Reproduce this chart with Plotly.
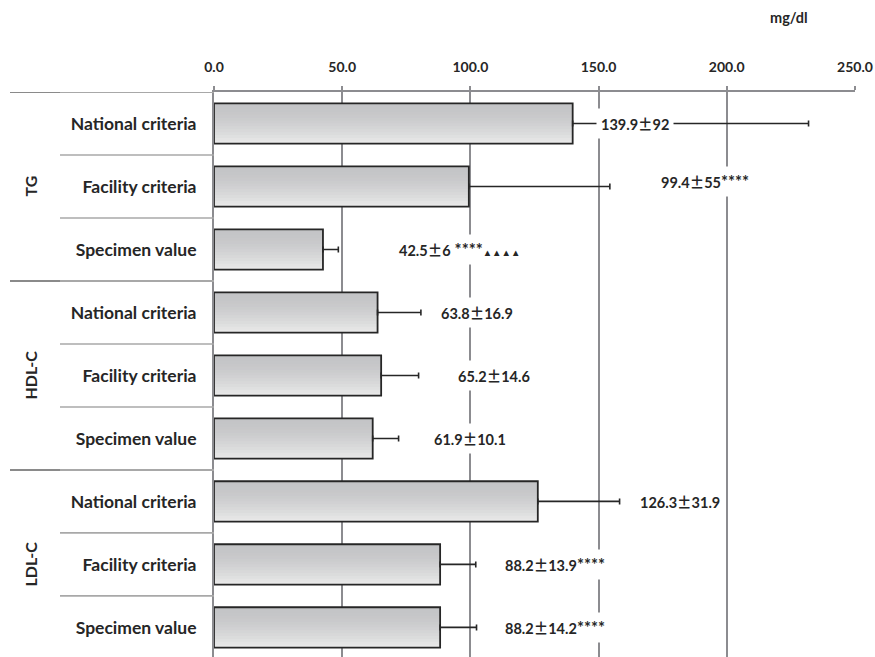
import plotly.graph_objects as go

# ---- data -------------------------------------------------------------
groups = ["TG", "HDL-C", "LDL-C"]
items = ["National criteria", "Facility criteria", "Specimen value"]
means = [139.9, 99.4, 42.5, 63.8, 65.2, 61.9, 126.3, 88.2, 88.2]
sds = [92, 55, 6, 16.9, 14.6, 10.1, 31.9, 13.9, 14.2]
marks = ["", "****", " ****", "", "", "", "", "****", "****"]
triangles = ["", "", "▲▲▲▲", "", "", "", "", "", ""]
x_ticks = [0, 50, 100, 150, 200, 250]
unit = "mg/dl"

# ---- label placement (centre in axis units, upward nudge in px) --------
label_center = [164.2, 191.5, 95.6, 102.6, 109.2, 99.8, 181.9, 133.0, 133.0]
label_lift = [0, 5, 0, 0, 0, 0, 0, 0, 0]

FONT = "Lato"
INK = "#262626"
GRID = "#8c8c90"
BAR_W = 0.64

rows = list(range(len(means)))
row_labels = [items[i % 3] for i in rows]

fig = go.Figure()

# vertical grey gradient inside each bar, built from overlapping strips
n_strips = 14
top_rgb = (195, 196, 198)
bot_rgb = (232, 232, 232)
for k in range(n_strips):
    t = (k / (n_strips - 1)) ** 1.6
    c = tuple(round(a + (b - a) * t) for a, b in zip(top_rgb, bot_rgb))
    start = -BAR_W / 2 + k * BAR_W / n_strips
    fig.add_trace(go.Bar(
        x=means, y=rows, orientation="h",
        width=BAR_W - k * BAR_W / n_strips, offset=start,
        marker=dict(color="rgb(%d,%d,%d)" % c, line=dict(width=0)),
        hoverinfo="skip", showlegend=False,
    ))

# bar outlines with the +SD whiskers
fig.add_trace(go.Bar(
    x=means, y=rows, orientation="h",
    width=BAR_W, offset=-BAR_W / 2,
    marker=dict(color="rgba(0,0,0,0)", line=dict(color=INK, width=1.8)),
    error_x=dict(type="data", symmetric=False, array=sds,
                 arrayminus=[0] * len(sds), color=INK, thickness=1.6, width=3),
    hoverinfo="skip", showlegend=False,
))


def fmt(v):
    return f"{v:g}"


PM = "<span style='font-family:\"Noto Sans CJK JP\"'>±</span>"
annotations = []
for i in rows:
    txt = fmt(means[i]) + PM + fmt(sds[i])
    if marks[i]:
        txt += "<span style='font-size:16.5px'>" + marks[i] + "</span>"
    if triangles[i]:
        txt += "<span style='font-size:9.5px'>" + triangles[i] + "</span>"
    annotations.append(dict(
        x=label_center[i], y=i, xref="x", yref="y", text=txt,
        showarrow=False, xanchor="center", yanchor="middle", yshift=label_lift[i],
        bgcolor="white", borderpad=4,
        font=dict(family=FONT, size=14.5, color=INK, weight="bold"),
    ))

# group names, rotated, left of the item names
for g, name in enumerate(groups):
    annotations.append(dict(
        x=-0.287, y=g * 3 + 1, xref="paper", yref="y", text=name,
        textangle=-90, showarrow=False, xanchor="center", yanchor="middle",
        font=dict(family=FONT, size=16, color=INK, weight="bold"),
    ))

# unit above the axis
annotations.append(dict(
    x=0.897, y=1.131, xref="paper", yref="paper", text=unit, showarrow=False,
    xanchor="center", yanchor="middle",
    font=dict(family=FONT, size=14.5, color=INK, weight="bold"),
))

# separator lines in the label column
shapes = []
x_far, x_mid = (10 - 214) / 641, (60 - 214) / 641
for b in [-0.5, 2.5, 5.5, 8.5]:
    shapes.append(dict(type="line", xref="paper", yref="y", x0=x_far, x1=x_mid,
                       y0=b, y1=b, line=dict(color="#8a8a8a", width=2)))
    shapes.append(dict(type="line", xref="paper", yref="y", x0=x_mid, x1=0,
                       y0=b, y1=b, line=dict(color="#a8a8a8", width=2)))
for b in [0.5, 1.5, 3.5, 4.5, 6.5, 7.5]:
    shapes.append(dict(type="line", xref="paper", yref="y", x0=x_mid, x1=0,
                       y0=b, y1=b, line=dict(color="#a8a8a8", width=1.6)))

fig.update_layout(
    width=875, height=657,
    margin=dict(l=214, r=20, t=92, b=0),
    paper_bgcolor="white", plot_bgcolor="white",
    barmode="overlay",
    showlegend=False,
    annotations=annotations,
    shapes=shapes,
    xaxis=dict(
        side="top", range=[0, 250.02], tickvals=x_ticks, tickformat=".1f",
        showgrid=True, gridcolor=GRID, gridwidth=2,
        showline=True, linecolor=GRID, linewidth=2,
        ticks="outside", ticklen=4, tickwidth=2, tickcolor=GRID,
        ticklabelstandoff=8, zeroline=False,
        tickfont=dict(family=FONT, size=14, color=INK, weight="bold"),
    ),
    yaxis=dict(
        range=[8.47, -0.5], tickvals=rows, ticktext=row_labels,
        showgrid=False, zeroline=False,
        showline=True, linecolor=GRID, linewidth=2,
        ticks="", ticklabelstandoff=12,
        tickfont=dict(family=FONT, size=17.5, color=INK, weight="bold"),
    ),
)

fig.write_html("out.html")
